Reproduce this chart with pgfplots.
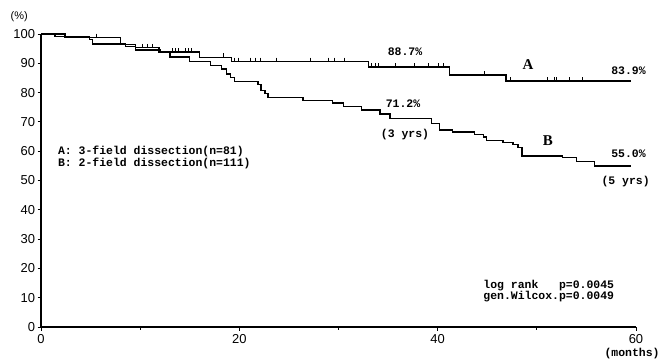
\documentclass[border=0pt]{standalone}
\usepackage{fontspec}
\setmainfont{Liberation Sans}
\newfontfamily\monof{Liberation Mono}
\newfontfamily\serff{Liberation Serif}
\usepackage{pgfplots}
\pgfplotsset{compat=1.18}
\usepackage{pgfplotstable}
\pgfplotstableread{
t s
0 100
2.4 98.8
8.0 96.5
9.5 95.3
11.9 93.8
16.0 92.0
19.2 90.6
33.0 88.7
41.2 86.0
46.9 83.9
59.5 83.9
}\curveA
\pgfplotstableread{
t s
0 100
1.4 99.1
4.9 98.2
5.2 96.6
8.5 95.7
9.5 94.6
12.0 93.7
13.0 92.2
15.0 90.6
17.1 89.3
18.2 88.0
18.7 86.3
19.1 85.2
19.5 83.7
21.9 82.7
22.2 80.7
22.6 79.6
22.9 78.4
26.4 77.3
29.4 76.4
30.5 75.2
32.3 74.1
34.2 72.7
35.2 71.2
39.4 69.4
40.2 67.3
41.5 66.6
43.7 65.7
44.6 64.9
44.9 63.7
46.6 63.0
47.6 62.3
48.1 61.3
48.5 58.3
52.6 57.8
54.0 56.5
55.8 55.0
59.5 55.0
}\curveB
\pgfplotstableread{
t s
5.6 98.8
10.2 95.3
10.7 95.3
11.2 95.3
13.3 93.8
13.6 93.8
13.9 93.8
14.6 93.8
14.9 93.8
15.2 93.8
18.4 92.0
19.5 90.6
19.9 90.6
21.1 90.6
21.6 90.6
22.1 90.6
23.7 90.6
27.2 90.6
29.0 90.6
29.6 90.6
30.6 90.6
33.3 88.7
33.7 88.7
34.0 88.7
35.7 88.7
37.7 88.7
39.1 88.7
40.1 88.7
40.6 88.7
44.7 86.0
47.3 83.9
51.1 83.9
51.8 83.9
52.0 83.9
53.3 83.9
54.6 83.9
}\censA
\begin{document}
\begin{tikzpicture}
\begin{axis}[
  anchor=south west, at={(0,0)},
  scale only axis, width=595bp, height=293bp,
  xmin=0, xmax=60, ymin=0, ymax=100,
  axis lines*=left,
  axis line style={line width=1.2bp},
  xtick={0,20,40,60}, minor xtick={10,30,50},
  ytick={0,10,...,100},
  tick align=outside,
  major tick length=3.5bp, minor tick length=2.5bp,
  tick style={line width=0.9bp, black},
  ticklabel style={font=\fontsize{13}{13}\selectfont},
  /pgf/number format/assume math mode=true,
  yticklabel style={xshift=1bp},
  clip=false,
]
\addplot[const plot, line width=1.4bp, black] table[x=t,y=s] {\curveA};
\addplot[const plot, line width=1.4bp, black] table[x=t,y=s] {\curveB};
\addplot[only marks, mark=|, mark size=2.2bp, black, line width=0.8bp,
  every mark/.append style={yshift=1.8bp}] table[x=t,y=s] {\censA};
\begin{scope}[every node/.style={font=\monof\bfseries\fontsize{11.5}{11.6}\selectfont, inner sep=0pt}]
\node at (axis cs:36.7,93.9) {88.7\%};
\node at (axis cs:36.5,76.1) {71.2\%};
\node at (axis cs:36.7,65.8) {(3 yrs)};
\node[anchor=east] at (axis cs:61.0,87.3) {83.9\%};
\node[anchor=east] at (axis cs:61.0,59.3) {55.0\%};
\node[anchor=east] at (axis cs:61.4,49.7) {(5 yrs)};
\node[anchor=west, align=left] at (axis cs:1.7,57.9) {A:~3-field~dissection(n=81)\\B:~2-field~dissection(n=111)};
\node[anchor=west, align=left] at (axis cs:44.6,12.3) {log~rank~~~p=0.0045\\gen.Wilcox.p=0.0049};
\node at (axis cs:59.6,-8.9) {(months)};
\end{scope}
\node[font=\serff\bfseries\fontsize{15}{15}\selectfont] at (axis cs:49.1,89.6) {A};
\node[font=\serff\bfseries\fontsize{15}{15}\selectfont] at (axis cs:51.1,63.7) {B};
\node[font=\fontsize{11}{11}\selectfont] at (axis cs:-2.2,105.8) {(\%)};
\end{axis}
\pgfresetboundingbox
\path[use as bounding box] (-41bp,-35bp) rectangle (628bp,327bp);
\end{tikzpicture}
\end{document}
